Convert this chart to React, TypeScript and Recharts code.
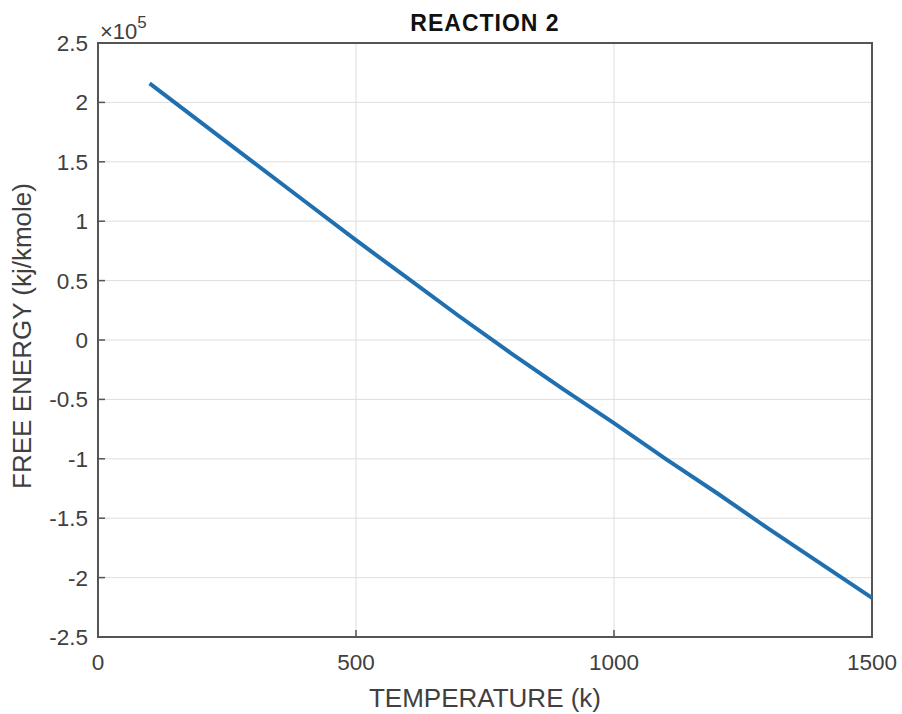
import React from 'react';
import { LineChart, Line, XAxis, YAxis, CartesianGrid, ReferenceArea } from 'recharts';

const temperatures = [100, 200, 300, 400, 500, 600, 700, 800, 900, 1000, 1100, 1200, 1300, 1400, 1500];
const freeEnergy = [216000, 183000, 150000, 117000, 84000, 52000, 20000, -11000, -41000, -70000, -100000, -129000, -159000, -188000, -217000];
const xTicks = [0, 500, 1000, 1500];
const yTicks = [-250000, -200000, -150000, -100000, -50000, 0, 50000, 100000, 150000, 200000, 250000];
const yTickLabels = ['-2.5', '-2', '-1.5', '-1', '-0.5', '0', '0.5', '1', '1.5', '2', '2.5'];

const data = temperatures.map((t, i) => ({ t, g: freeEnergy[i] }));

const FONT = 'Arial, "Liberation Sans", Helvetica, sans-serif';
const TEXT = '#404040';
const AXIS = '#555555';

const YTick = (props: any) => {
  const { x, y, payload } = props;
  const idx = yTicks.indexOf(payload.value);
  const label = idx >= 0 ? yTickLabels[idx] : String(payload.value);
  return (
    <g>
      <line x1={x} y1={y} x2={x + 7} y2={y} stroke={AXIS} strokeWidth={1.5} />
      <text x={x - 10} y={y} dy={8} textAnchor="end" fontSize={22.5} fontFamily={FONT} fill={TEXT}>{label}</text>
    </g>
  );
};

const XTick = (props: any) => {
  const { x, y, payload } = props;
  return (
    <g>
      <line x1={x} y1={y} x2={x} y2={y - 7} stroke={AXIS} strokeWidth={1.5} />
      <text x={x} y={y + 33} textAnchor="middle" fontSize={22.5} fontFamily={FONT} fill={TEXT}>{payload.value}</text>
    </g>
  );
};

export default function App() {
  return (
    <div style={{ position: 'absolute', left: 0, top: 0, width: 902, height: 714, background: '#fff' }}>
      <LineChart width={902} height={714} data={data} margin={{ top: 43, right: 30, bottom: 0, left: 0 }}>
        <CartesianGrid stroke="#dedede" strokeWidth={1} vertical horizontal />
        <XAxis
          dataKey="t"
          type="number"
          domain={[0, 1500]}
          ticks={xTicks}
          height={77}
          tickSize={0}
          tickMargin={0}
          axisLine={false}
          tickLine={false}
          tick={<XTick />}
          interval={0}
        />
        <YAxis
          type="number"
          domain={[-250000, 250000]}
          ticks={yTicks}
          width={98}
          tickSize={0}
          tickMargin={0}
          axisLine={false}
          tickLine={false}
          tick={<YTick />}
          interval={0}
        />
        <ReferenceArea x1={0} x2={1500} y1={-250000} y2={250000} fill="none" stroke={AXIS} strokeWidth={2} ifOverflow="visible" />
        <Line type="linear" dataKey="g" stroke="#1f70b0" strokeWidth={4} dot={false} isAnimationActive={false} />
        <text x={485} y={31} textAnchor="middle" fontSize={23} fontWeight="bold" letterSpacing={1} fontFamily={FONT} fill="#111">REACTION 2</text>
        <text x={100} y={39} fontSize={22} fontFamily={FONT} fill={TEXT}>
          ×10<tspan dy={-11} fontSize={17}>5</tspan>
        </text>
        <text x={485} y={707} textAnchor="middle" fontSize={26} fontFamily={FONT} fill={TEXT}>TEMPERATURE (k)</text>
        <text x={31} y={336} textAnchor="middle" fontSize={26} fontFamily={FONT} fill={TEXT} transform="rotate(-90 31 336)">FREE ENERGY (kj/kmole)</text>
      </LineChart>
    </div>
  );
}
